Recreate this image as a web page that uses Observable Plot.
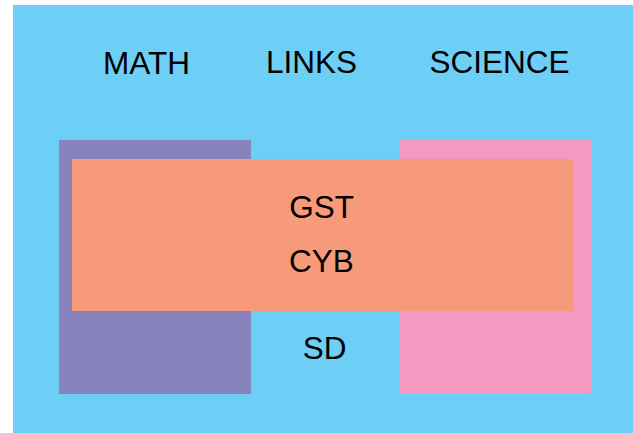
<!DOCTYPE html>
<html>
<head>
<meta charset="utf-8">
<script src="https://cdn.jsdelivr.net/npm/d3@7"></script>
<script src="https://cdn.jsdelivr.net/npm/@observablehq/plot@0.6"></script>
<style>
  html, body { margin: 0; padding: 0; background: #ffffff; }
  #chart svg { display: block; }
</style>
</head>
<body>
<div id="chart"></div>
<script>
// Regions of the diagram (in a 633 x 433 unit frame)
const regionNames = ["Frame", "MATH", "SCIENCE", "Overlap"];
const regionX1 = [13, 59, 400, 72];
const regionX2 = [633, 251, 591, 573];
const regionY1 = [5, 140, 140, 159];
const regionY2 = [433, 394, 394, 311];
const regionColors = ["#6dcff6", "#8882bd", "#f49ac1", "#f69a7a"];

// Labels
const labelTexts = ["MATH", "LINKS", "SCIENCE", "GST", "CYB", "SD"];
const labelX = [146, 311, 499, 321, 321, 324];
const labelY = [63, 62, 62, 207, 261, 348];

const regions = regionNames.map((name, i) => ({
  name, x1: regionX1[i], x2: regionX2[i], y1: regionY1[i], y2: regionY2[i], color: regionColors[i]
}));
const labels = labelTexts.map((t, i) => ({ t, x: labelX[i], y: labelY[i] }));

const chart = Plot.plot({
  width: 633,
  height: 433,
  margin: 0,
  x: { domain: [0, 633], range: [0, 633], axis: null },
  y: { domain: [0, 433], range: [0, 433], axis: null },
  style: { fontFamily: "'Liberation Sans', Arial, sans-serif", background: "#ffffff" },
  marks: [
    Plot.rect(regions, { x1: "x1", x2: "x2", y1: "y1", y2: "y2", fill: "color" }),
    Plot.text(labels, { x: "x", y: "y", text: "t", fontSize: 31.5, fill: "#000000", textAnchor: "middle" })
  ]
});
document.getElementById("chart").appendChild(chart);
</script>
</body>
</html>
